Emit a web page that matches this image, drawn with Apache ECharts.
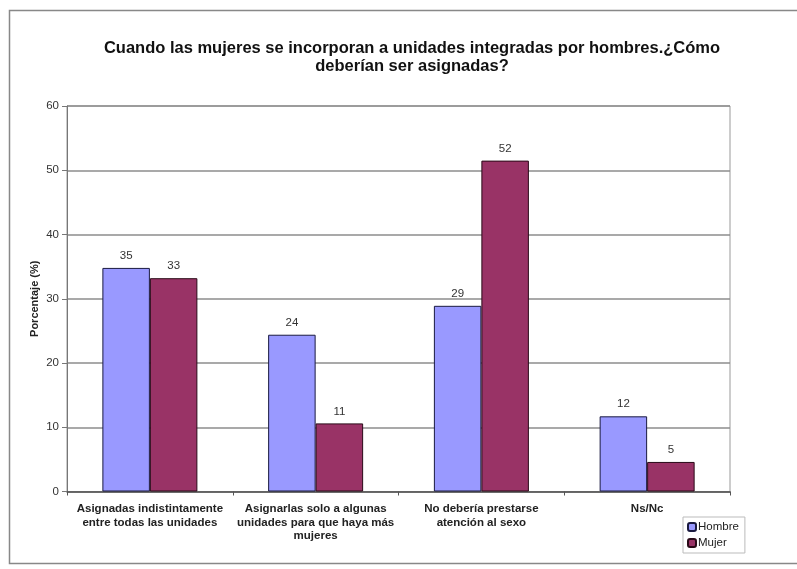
<!DOCTYPE html>
<html>
<head>
<meta charset="utf-8">
<script src="https://cdn.jsdelivr.net/npm/echarts@6/dist/echarts.min.js"></script>
<style>html,body{margin:0;padding:0;background:#fff}#c{width:797px;height:569px}</style>
</head>
<body>
<div id="c"></div>
<script>
const categories = [
  'Asignadas indistintamente\nentre todas las unidades',
  'Asignarlas solo a algunas\nunidades para que haya más\nmujeres',
  'No debería prestarse\natención al sexo',
  'Ns/Nc'
];
const hombre = [34.8, 24.4, 28.9, 11.7];
const mujer = [33.2, 10.6, 51.5, 4.6];
const yTicks = [0, 10, 20, 30, 40, 50, 60];

const chart = echarts.init(document.getElementById('c'));
const font = 'Liberation Sans, Arial, sans-serif';
chart.setOption({
  animation: false,
  textStyle: { fontFamily: font },
  title: {
    text: 'Cuando las mujeres se incorporan a unidades integradas por hombres.¿Cómo\ndeberían ser asignadas?',
    left: 407, top: 34, textAlign: 'center',
    textStyle: { fontSize: 16.5, fontWeight: 'bold', color: '#111', lineHeight: 18.5, fontFamily: font }
  },
  graphic: [{
    type: 'rect', shape: { x: 9.5, y: 10.5, width: 800, height: 553 },
    style: { fill: 'none', stroke: '#888', lineWidth: 1.5 }, silent: true
  }],
  legend: {
    orient: 'vertical', left: 683, top: 517,
    itemWidth: 8, itemHeight: 8, itemGap: 4,
    padding: [4, 6, 4, 4],
    borderColor: '#bbb', borderWidth: 1,
    textStyle: { fontSize: 11.5, color: '#222', padding: [0, 0, 0, -3] },
    data: ['Hombre', 'Mujer']
  },
  grid: { left: 67, right: 67, top: 106, bottom: 77.5, show: true, borderColor: '#999', borderWidth: 1 },
  xAxis: {
    type: 'category', data: categories,
    axisLine: { lineStyle: { color: '#555', width: 1.5 } },
    axisTick: { show: true, lineStyle: { color: '#555' }, length: 4 },
    axisLabel: { interval: 0, fontSize: 11.5, fontWeight: 'bold', color: '#222', lineHeight: 13.5, margin: 11 }
  },
  yAxis: {
    type: 'value', min: 0, max: 60, interval: 10,
    name: 'Porcentaje (%)', nameLocation: 'middle', nameRotate: 90, nameGap: 27,
    nameMoveOverlap: false,
    nameTextStyle: { fontSize: 11, fontWeight: 'bold', color: '#222' },
    axisLine: { show: true, lineStyle: { color: '#777' } },
    axisTick: { show: true, length: 5, lineStyle: { color: '#777' } },
    axisLabel: { fontSize: 11.5, color: '#333', margin: 8,
      formatter: v => yTicks.indexOf(v) >= 0 ? String(v) : '' },
    splitLine: { lineStyle: { color: '#8c8c8c', width: 1.5 } }
  },
  series: [
    { name: 'Hombre', type: 'bar', data: hombre, barWidth: 47.5, barGap: '0%',
      itemStyle: { color: '#9999FF', borderColor: '#1a1a40', borderWidth: 1 },
      label: { show: true, position: 'top', distance: 6, fontSize: 11.5, color: '#333',
        formatter: p => Math.round(p.value) } },
    { name: 'Mujer', type: 'bar', data: mujer, barWidth: 47.5,
      itemStyle: { color: '#993366', borderColor: '#2a0a18', borderWidth: 1 },
      label: { show: true, position: 'top', distance: 6, fontSize: 11.5, color: '#333',
        formatter: p => Math.round(p.value) } }
  ]
});
</script>
</body>
</html>
